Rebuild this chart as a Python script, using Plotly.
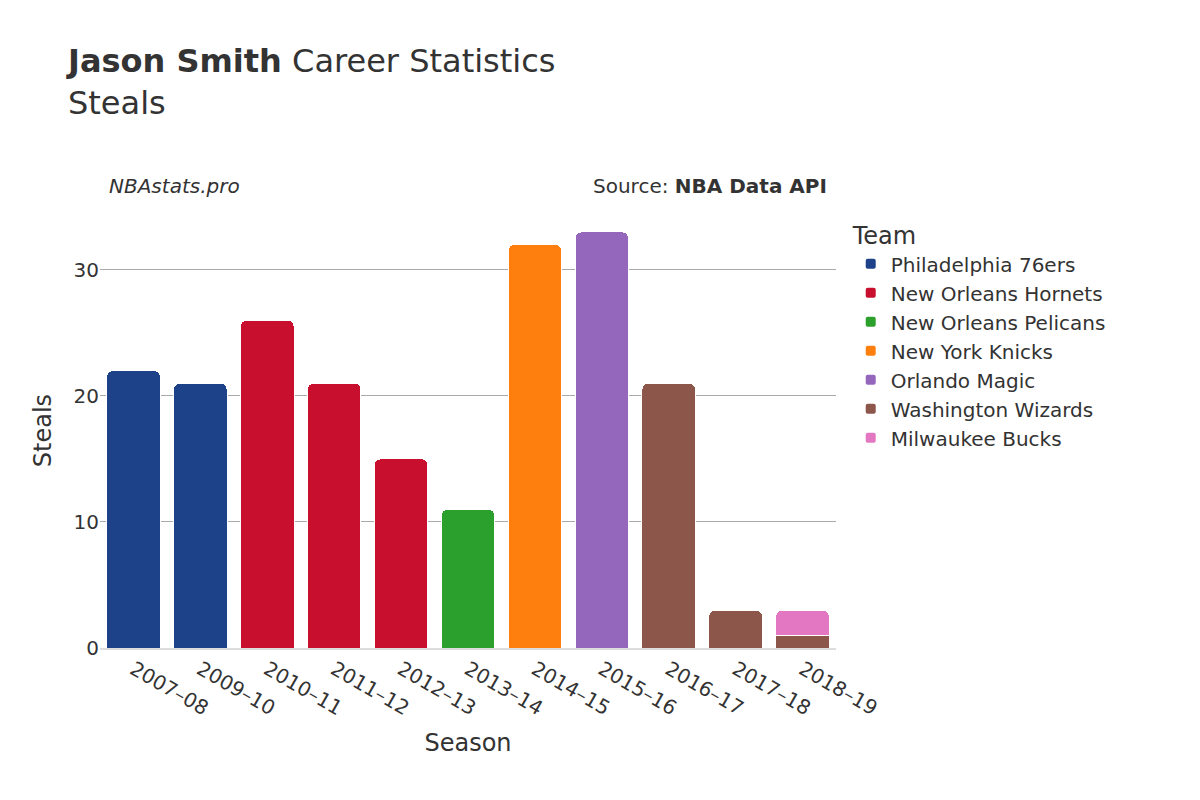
import plotly.graph_objects as go

seasons = ["2007–08","2009–10","2010–11","2011–12","2012–13","2013–14","2014–15","2015–16","2016–17","2017–18","2018–19"]
teams = ["Philadelphia 76ers","New Orleans Hornets","New Orleans Pelicans","New York Knicks","Orlando Magic","Washington Wizards","Milwaukee Bucks"]
colors = ["#1d428a","#c8102e","#2ca02c","#ff7f0e","#9467bd","#8c564b","#e377c2"]
team_seasons = [
    ["2007–08","2009–10"],
    ["2010–11","2011–12","2012–13"],
    ["2013–14"],
    ["2014–15"],
    ["2015–16"],
    ["2016–17","2017–18","2018–19"],
    ["2018–19"],
]
team_steals = [
    [22,21],
    [26,21,15],
    [11],
    [32],
    [33],
    [21,3,1],
    [2],
]

fig = go.Figure()
for t, c, xs, ys in zip(teams, colors, team_seasons, team_steals):
    fig.add_trace(go.Bar(name=t, x=xs, y=ys, marker=dict(color=c, line=dict(color="white", width=1))))

font = "DejaVu Sans"
fig.update_layout(
    width=1200, height=800,
    barmode="stack", barcornerradius=6, bargap=0.2,
    plot_bgcolor="white", paper_bgcolor="white",
    font=dict(family=font, size=20, color="#333"),
    margin=dict(l=92, r=372, t=205, b=160),
    title=dict(text="<b>Jason Smith</b> Career Statistics<br>Steals", x=0.05, xanchor="left", y=0.92, yanchor="top",
               font=dict(size=32, color="#333")),
    xaxis=dict(categoryorder="array", categoryarray=seasons, tickangle=30, title=dict(text="Season", font=dict(size=24)),
               tickfont=dict(size=20), showline=True, linecolor="#ddd", linewidth=2),
    yaxis=dict(range=[0, 34.5], dtick=10, gridcolor="#aaa", title=dict(text="Steals", font=dict(size=24)),
               tickfont=dict(size=20), zeroline=False),
    legend=dict(title=dict(text="Team", font=dict(size=24)), x=1.02, y=1.0, yanchor="top", font=dict(size=20),
                tracegroupgap=0, itemsizing="constant", traceorder="normal"),
    annotations=[
        dict(text="<i>NBAstats.pro</i>", xref="paper", yref="paper", x=0.01, y=1.03, xanchor="left", yanchor="bottom",
             showarrow=False, font=dict(size=20)),
        dict(text="Source: <b>NBA Data API</b>", xref="paper", yref="paper", x=0.99, y=1.03, xanchor="right", yanchor="bottom",
             showarrow=False, font=dict(size=20)),
    ],
)
fig.write_html("out.html")
